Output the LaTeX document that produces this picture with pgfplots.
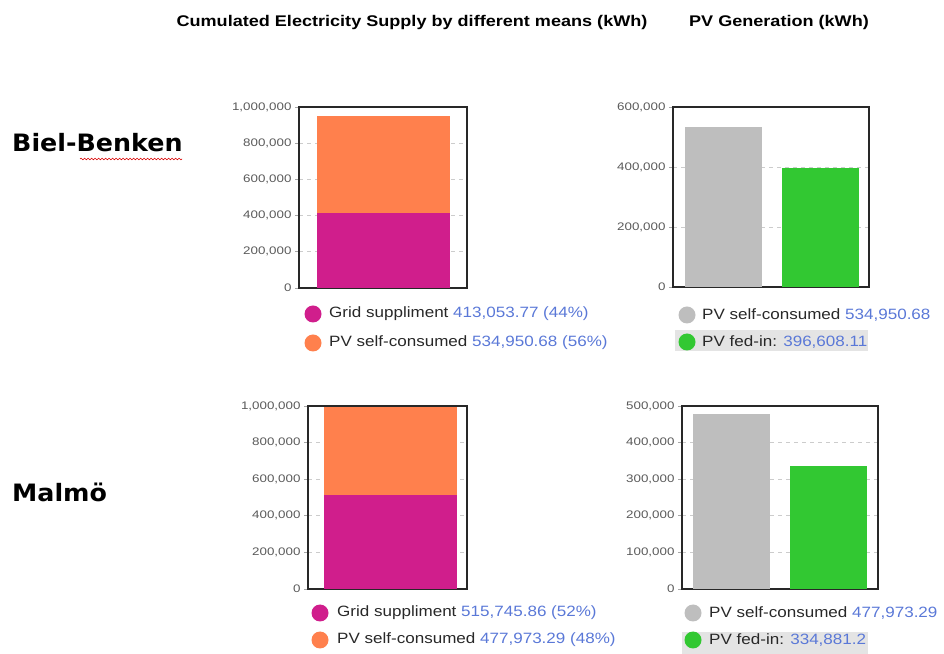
\documentclass[border=0pt]{standalone}
\usepackage{fontspec}
\usepackage{pgfplots}
\pgfplotsset{compat=1.18}
\usetikzlibrary{decorations.pathmorphing}
\setmainfont{Liberation Sans}
\newfontfamily\tickfont[FakeStretch=1.22]{Liberation Sans}
\newfontfamily\legfont[FakeStretch=1.14]{Liberation Sans}
\newfontfamily\titfont[FakeStretch=1.17]{Liberation Sans Bold}
\newfontfamily\rowfont[FakeStretch=1.06]{DejaVu Sans Bold}
\definecolor{cmag}{RGB}{208,30,140}
\definecolor{corange}{RGB}{255,128,77}
\definecolor{cgray}{RGB}{190,190,190}
\definecolor{cgreen}{RGB}{50,200,50}
\definecolor{valblue}{RGB}{90,120,215}
\definecolor{txt}{RGB}{40,40,40}
\definecolor{frame}{RGB}{40,40,40}
\definecolor{hl}{RGB}{228,228,228}
\pgfplotsset{
  panel/.style={
    scale only axis,
    anchor=south west,
    axis line style={draw=frame, line width=1.1bp},
    ymajorgrids,
    grid style={dash pattern=on 4bp off 4bp, black!20, line width=0.8bp},
    xtick=\empty,
    ytick pos=left,
    tick align=outside,
    major tick length=4bp,
    every tick/.style={draw=black!35, line width=0.8bp},
    yticklabel style={font=\tickfont\fontsize{11}{12}\selectfont, text=black!65},
    /pgf/number format/assume math mode=true,
    /pgf/number format/.cd, fixed, 1000 sep={,},
    /pgfplots/.cd,
    scaled y ticks=false,
    ymin=0,
  }
}
\begin{document}
\begin{tikzpicture}
\path[use as bounding box] (0,0) rectangle (944bp,654bp);
% titles
\node[anchor=base, font=\titfont\fontsize{15.5}{16}\selectfont, text=black] at (412bp,627bp) {Cumulated Electricity Supply by different means (kWh)};
\node[anchor=base, font=\titfont\fontsize{15.5}{16}\selectfont, text=black] at (779bp,627bp) {PV Generation (kWh)};
% row labels
\node[anchor=base west, inner sep=0pt, font=\rowfont\fontsize{24}{26}\selectfont] at (12bp,502bp) {Biel-Benken};
\draw[red!85!black, line width=0.6bp, decorate, decoration={snake, amplitude=0.8bp, segment length=3.5bp}] (80bp,495bp) -- (182bp,495bp);
\node[anchor=base west, inner sep=0pt, font=\rowfont\fontsize{24}{26}\selectfont] at (12bp,152bp) {Malmö};

% Panel 1
\begin{axis}[panel, at={(299bp,366bp)}, width=168bp, height=181bp,
  xmin=0, xmax=1, ymax=1000000, ytick={0,200000,...,1000000},
  ybar stacked, bar width=133bp]
\addplot[fill=cmag, draw=none] coordinates {(0.5,413053.77)};
\addplot[fill=corange, draw=none] coordinates {(0.5,534950.68)};
\end{axis}
% Panel 2
\begin{axis}[panel, at={(673bp,367bp)}, width=196bp, height=180bp,
  xmin=0, xmax=196, ymax=600000, ytick={0,200000,...,600000},
  ybar, bar width=77bp]
\addplot[fill=cgray, draw=none, bar shift=0pt] coordinates {(50.5,534950.68)};
\addplot[fill=cgreen, draw=none, bar shift=0pt] coordinates {(147,396608.11)};
\end{axis}
% Panel 3
\begin{axis}[panel, at={(308bp,65bp)}, width=159bp, height=183bp,
  xmin=0, xmax=1, ymax=1000000, ytick={0,200000,...,1000000},
  ybar stacked, bar width=133bp]
\addplot[fill=cmag, draw=none] coordinates {(0.52,515745.86)};
\addplot[fill=corange, draw=none] coordinates {(0.52,477973.29)};
\end{axis}
% Panel 4
\begin{axis}[panel, at={(682bp,65bp)}, width=196bp, height=183bp,
  xmin=0, xmax=196, ymax=500000, ytick={0,100000,...,500000},
  ybar, bar width=77bp]
\addplot[fill=cgray, draw=none, bar shift=0pt] coordinates {(49.5,477973.29)};
\addplot[fill=cgreen, draw=none, bar shift=0pt] coordinates {(146,334881.2)};
\end{axis}

% legends
\begin{scope}[font=\legfont\fontsize{15}{16}\selectfont, text=txt]
% top-left
\fill[cmag] (313bp,340bp) circle (8.5bp);
\node[anchor=west, inner sep=0pt] at (329bp,340bp) {Grid suppliment \textcolor{valblue}{413,053.77 (44\%)}};
\fill[corange] (313bp,311bp) circle (8.5bp);
\node[anchor=west, inner sep=0pt] at (329bp,311bp) {PV self-consumed \textcolor{valblue}{534,950.68 (56\%)}};
% top-right
\fill[hl] (675bp,303bp) rectangle (868bp,324bp);
\fill[cgray] (687bp,339bp) circle (8.5bp);
\node[anchor=west, inner sep=0pt] at (702bp,339bp) {PV self-consumed \textcolor{valblue}{534,950.68}};
\fill[cgreen] (687bp,312bp) circle (8.5bp);
\node[anchor=west, inner sep=0pt] at (702bp,312bp) {PV fed-in: \textcolor{valblue}{396,608.11}};
% bottom-left
\fill[cmag] (320bp,41bp) circle (8.5bp);
\node[anchor=west, inner sep=0pt] at (337bp,41bp) {Grid suppliment \textcolor{valblue}{515,745.86 (52\%)}};
\fill[corange] (320bp,14bp) circle (8.5bp);
\node[anchor=west, inner sep=0pt] at (337bp,14bp) {PV self-consumed \textcolor{valblue}{477,973.29 (48\%)}};
% bottom-right
\fill[hl] (682bp,0bp) rectangle (868bp,22bp);
\fill[cgray] (693bp,41bp) circle (8.5bp);
\node[anchor=west, inner sep=0pt] at (709bp,41bp) {PV self-consumed \textcolor{valblue}{477,973.29}};
\fill[cgreen] (693bp,14bp) circle (8.5bp);
\node[anchor=west, inner sep=0pt] at (709bp,14bp) {PV fed-in: \textcolor{valblue}{334,881.2}};
\end{scope}
\end{tikzpicture}
\end{document}
